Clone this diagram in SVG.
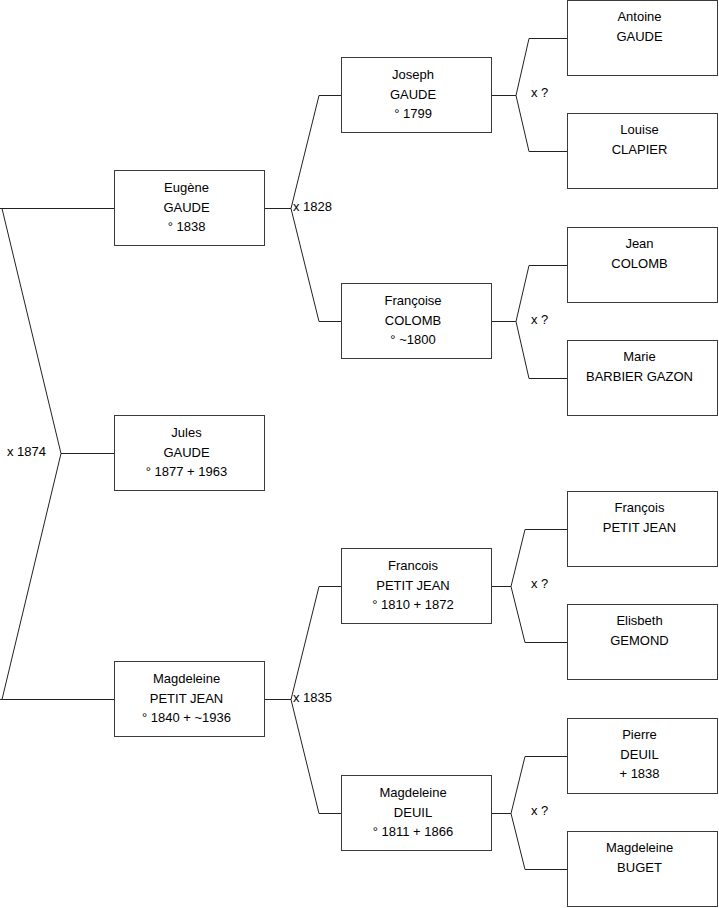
<svg xmlns="http://www.w3.org/2000/svg" width="719" height="908" viewBox="0 0 719 908">
<style>
.box rect{fill:#fff;stroke:#3a3a3a;stroke-width:1}
text{font-family:"Liberation Sans",Arial,sans-serif;font-size:13px;fill:#000}
.box text{text-anchor:middle}
.conn path{fill:none;stroke:#222;stroke-width:1}
</style>
<rect width="719" height="908" fill="#fff"/>
<g class="conn" id="connectors">
<path d="M114,208.5 H0 M2,208.5 L61,453.5 L2,699.5 M0,699.5 H114 M61,453.5 H114"/>
<path d="M265,208.5 H291 L319,95.5 H341 M291,208.5 L319,321.5 H341"/>
<path d="M265,699.5 H291 L319,586.5 H341 M291,699.5 L319,813.5 H341"/>
<path d="M492,95.5 H516 L529,38.5 H567 M516,95.5 L529,151.5 H567"/>
<path d="M492,321.5 H516 L529,265.5 H567 M516,321.5 L529,378.5 H567"/>
<path d="M492,586.5 H511 L525,529.5 H567 M511,586.5 L525,642.5 H567"/>
<path d="M492,813.5 H511 L525,756.5 H567 M511,813.5 L525,869.5 H567"/>
<text x="7" y="456">x 1874</text>
<text x="293" y="211">x 1828</text>
<text x="293" y="702">x 1835</text>
<text x="531" y="97">x ?</text>
<text x="531" y="324">x ?</text>
<text x="531" y="588">x ?</text>
<text x="531" y="815">x ?</text>
</g>
<g class="box" id="eugene"><rect x="114.5" y="170.5" width="150" height="75"/><text x="186.5" y="191.5">Eugène</text><text x="186.5" y="211.5">GAUDE</text><text x="186.5" y="231">° 1838</text></g>
<g class="box" id="jules"><rect x="114.5" y="415.5" width="150" height="75"/><text x="186.5" y="436.5">Jules</text><text x="186.5" y="456.5">GAUDE</text><text x="186.5" y="476">° 1877 + 1963</text></g>
<g class="box" id="magdeleine-pj"><rect x="114.5" y="661.5" width="150" height="75"/><text x="186.5" y="682.5">Magdeleine</text><text x="186.5" y="702.5">PETIT JEAN</text><text x="186.5" y="722">° 1840 + ~1936</text></g>
<g class="box" id="joseph"><rect x="341.5" y="57.5" width="150" height="75"/><text x="413" y="78.5">Joseph</text><text x="413" y="98.5">GAUDE</text><text x="413" y="118">° 1799</text></g>
<g class="box" id="francoise"><rect x="341.5" y="283.5" width="150" height="75"/><text x="413" y="304.5">Françoise</text><text x="413" y="324.5">COLOMB</text><text x="413" y="344">° ~1800</text></g>
<g class="box" id="francois-pj"><rect x="341.5" y="548.5" width="150" height="75"/><text x="413" y="569.5">Francois</text><text x="413" y="589.5">PETIT JEAN</text><text x="413" y="609">° 1810 + 1872</text></g>
<g class="box" id="magdeleine-deuil"><rect x="341.5" y="775.5" width="150" height="75"/><text x="413" y="796.5">Magdeleine</text><text x="413" y="816.5">DEUIL</text><text x="413" y="836">° 1811 + 1866</text></g>
<g class="box" id="antoine"><rect x="567.5" y="0.5" width="150" height="75"/><text x="639.5" y="21">Antoine</text><text x="639.5" y="41">GAUDE</text></g>
<g class="box" id="louise"><rect x="567.5" y="113.5" width="150" height="75"/><text x="639.5" y="134">Louise</text><text x="639.5" y="154">CLAPIER</text></g>
<g class="box" id="jean"><rect x="567.5" y="227.5" width="150" height="75"/><text x="639.5" y="248">Jean</text><text x="639.5" y="268">COLOMB</text></g>
<g class="box" id="marie"><rect x="567.5" y="340.5" width="150" height="75"/><text x="639.5" y="361">Marie</text><text x="639.5" y="381">BARBIER GAZON</text></g>
<g class="box" id="francois-pj2"><rect x="567.5" y="491.5" width="150" height="75"/><text x="639.5" y="512">François</text><text x="639.5" y="532">PETIT JEAN</text></g>
<g class="box" id="elisbeth"><rect x="567.5" y="604.5" width="150" height="75"/><text x="639.5" y="625">Elisbeth</text><text x="639.5" y="645">GEMOND</text></g>
<g class="box" id="pierre"><rect x="567.5" y="718.5" width="150" height="75"/><text x="639.5" y="739">Pierre</text><text x="639.5" y="759">DEUIL</text><text x="639.5" y="778">+ 1838</text></g>
<g class="box" id="magdeleine-buget"><rect x="567.5" y="831.5" width="150" height="75"/><text x="639.5" y="852">Magdeleine</text><text x="639.5" y="872">BUGET</text></g>
</svg>
